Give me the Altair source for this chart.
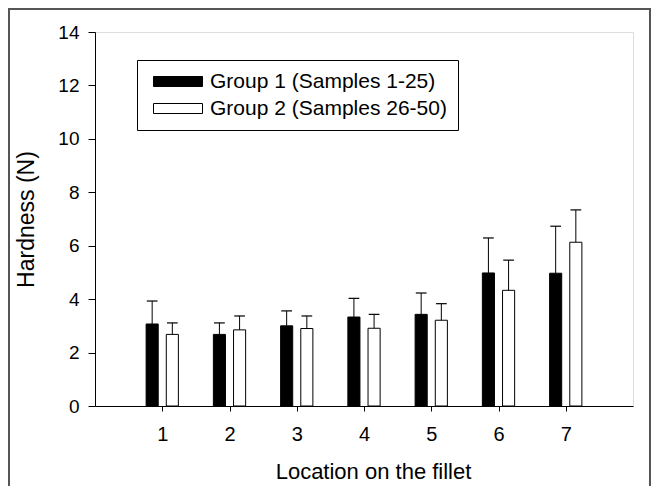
import altair as alt
import pandas as pd

locations = [1, 2, 3, 4, 5, 6, 7]
groups = ["Group 1 (Samples 1-25)", "Group 2 (Samples 26-50)"]
g1_mean = [3.07, 2.68, 3.00, 3.33, 3.43, 4.98, 4.97]
g1_sd = [0.86, 0.43, 0.56, 0.70, 0.80, 1.31, 1.76]
g2_mean = [2.68, 2.85, 2.90, 2.91, 3.21, 4.33, 6.13]
g2_sd = [0.43, 0.52, 0.47, 0.52, 0.62, 1.13, 1.21]
y_ticks = [0, 2, 4, 6, 8, 10, 12, 14]

group_offset = [-0.15, 0.15]

rows = []
for gi, (means, sds) in enumerate([(g1_mean, g1_sd), (g2_mean, g2_sd)]):
    for loc, m, s in zip(locations, means, sds):
        rows.append(dict(group=groups[gi], loc=loc, off=group_offset[gi], mean=m, sd=s))
df = pd.DataFrame(rows)

FONT = "Liberation Sans"

base = alt.Chart(df).transform_calculate(
    center="datum.loc + datum.off",
    x0="datum.loc + datum.off - 0.09",
    x1="datum.loc + datum.off + 0.09",
    capL="datum.loc + datum.off - 0.08",
    capR="datum.loc + datum.off + 0.08",
    upper="datum.mean + datum.sd",
)

xscale = alt.Scale(domain=[0, 8], nice=False, zero=False)
yscale = alt.Scale(domain=[0, 14], nice=False)

xaxis = alt.Axis(values=locations, title="Location on the fillet", format="d",
                 grid=False, tickSize=5, labelPadding=13, titlePadding=17,
                 labelFontSize=20, titleFontSize=22, labelFont=FONT, titleFont=FONT,
                 labelColor="black", titleColor="black", tickColor="black",
                 domainColor="black", titleFontWeight="normal", labelAngle=0,
                 titleX=278)
yaxis = alt.Axis(values=y_ticks, title="Hardness (N)", grid=False, tickSize=7,
                 labelPadding=9, titlePadding=19, labelFontSize=19, titleFontSize=23,
                 labelFont=FONT, titleFont=FONT, labelColor="black", titleColor="black",
                 tickColor="black", domainColor="black", titleFontWeight="normal")

color = alt.Color(
    "group:N",
    scale=alt.Scale(domain=groups, range=["black", "white"]),
    legend=alt.Legend(
        title=None, orient="none", legendX=42, legendY=28,
        symbolType="M-1,-1 H8.8 V1 H-1 Z", symbolSize=100,
        symbolStrokeColor="black", symbolStrokeWidth=1, symbolOpacity=1,
        labelOffset=41, labelFontSize=21, labelFont=FONT, labelColor="black",
        rowPadding=5, padding=11, strokeColor="black", fillColor="white",
        labelLimit=400,
    ),
)

bars = base.mark_rect(stroke="black", strokeWidth=1, opacity=1).encode(
    x=alt.X("x0:Q", scale=xscale, axis=xaxis),
    x2="x1:Q",
    y=alt.Y("mean:Q", scale=yscale, axis=yaxis),
    y2=alt.datum(0),
    color=color,
)

stems = base.mark_rule(color="black", strokeWidth=1).encode(
    x=alt.X("center:Q", scale=xscale),
    y=alt.Y("mean:Q", scale=yscale),
    y2="upper:Q",
)

caps = base.mark_rule(color="black", strokeWidth=1.2).encode(
    x=alt.X("capL:Q", scale=xscale),
    x2="capR:Q",
    y=alt.Y("upper:Q", scale=yscale),
)

frame = alt.Chart(pd.DataFrame({"a": [0]})).mark_rect(
    fill="transparent", stroke="#555", strokeWidth=2
).encode(
    x=alt.value(-86), x2=alt.value(555), y=alt.value(-23), y2=alt.value(500)
)

chart = alt.layer(frame, bars, stems, caps).properties(
    width=538, height=374,
    autosize=alt.AutoSizeParams(type="none"),
    padding={"left": 87, "top": 24, "right": 19, "bottom": 80},
).configure_view(stroke="black", strokeWidth=1).configure(background="white")

chart.save("out.html", embed_options={"renderer": "svg", "actions": False})
